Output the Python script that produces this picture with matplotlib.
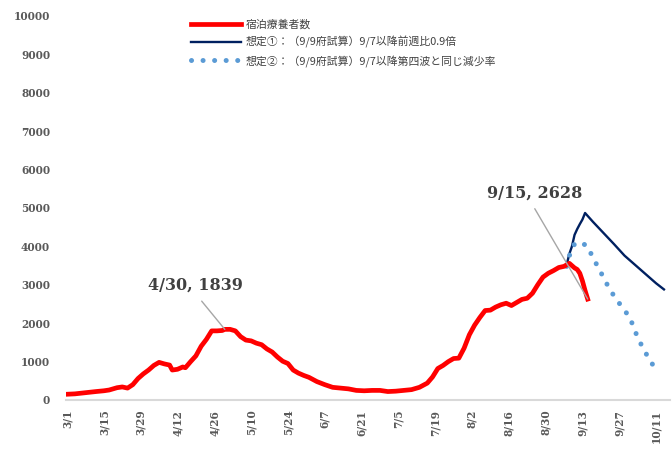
import numpy as np
import pandas as pd
import matplotlib
matplotlib.use("Agg")
import matplotlib.pyplot as plt

# 宿泊療養者数 (actual)
actual_dates = ["3/1", "3/4", "3/8", "3/12", "3/15", "3/17", "3/20", "3/22", "3/24", "3/26",
                "3/28", "3/30", "4/1", "4/3", "4/5", "4/7", "4/9", "4/10", "4/12", "4/14",
                "4/15", "4/17", "4/19", "4/21", "4/23", "4/25", "4/27", "4/29", "4/30", "5/2",
                "5/4", "5/6", "5/8", "5/10", "5/12", "5/14", "5/16", "5/18", "5/20", "5/22",
                "5/24", "5/26", "5/28", "5/30", "6/1", "6/4", "6/7", "6/10", "6/13", "6/16",
                "6/19", "6/22", "6/25", "6/28", "7/1", "7/4", "7/7", "7/10", "7/13", "7/16",
                "7/18", "7/20", "7/22", "7/24", "7/26", "7/28", "7/30", "8/1", "8/3", "8/5",
                "8/7", "8/9", "8/11", "8/13", "8/15", "8/17", "8/19", "8/21", "8/23", "8/25",
                "8/27", "8/29", "8/31", "9/2", "9/4", "9/6", "9/8", "9/9", "9/10", "9/11",
                "9/12", "9/13", "9/14", "9/15"]
actual_vals = [150, 160, 190, 220, 240, 260, 320, 340, 310, 400,
               560, 680, 780, 900, 980, 940, 910, 780, 800, 860,
               840, 1000, 1150, 1400, 1580, 1800, 1800, 1810, 1839, 1840,
               1800, 1650, 1560, 1540, 1480, 1440, 1330, 1250, 1120, 1010,
               950, 780, 700, 640, 590, 480, 400, 330, 310, 290,
               250, 240, 250, 250, 220, 230, 250, 270, 330, 440,
               600, 820, 900, 1000, 1080, 1090, 1350, 1700, 1950, 2150,
               2330, 2340, 2420, 2480, 2520, 2460, 2540, 2620, 2650, 2780,
               3000, 3200, 3300, 3370, 3450, 3480, 3560, 3500, 3440, 3400,
               3300, 3100, 2850, 2628]

# 想定①
case1_dates = ["9/7", "9/8", "9/9", "9/10", "9/11", "9/12", "9/13", "9/14", "9/17", "9/21",
               "9/25", "9/29", "10/3", "10/7", "10/11", "10/14"]
case1_vals = [3520, 3800, 4000, 4300, 4450, 4580, 4700, 4870, 4640, 4350,
              4060, 3760, 3520, 3280, 3040, 2880]

# 想定②
case2_dates = ["9/7", "9/8", "9/9", "9/10", "9/11", "9/12", "9/13", "9/15", "9/17", "9/19",
               "9/21", "9/23", "9/25", "9/27", "9/29", "10/1", "10/3", "10/5", "10/7", "10/9",
               "10/10"]
case2_vals = [3480, 3750, 3950, 4060, 4100, 4110, 4080, 4000, 3700, 3455,
              3190, 2930, 2710, 2520, 2330, 2160, 1790, 1490, 1230, 1000,
              890]

tick_dates = ["3/1", "3/15", "3/29", "4/12", "4/26", "5/10", "5/24", "6/7", "6/21", "7/5",
              "7/19", "8/2", "8/16", "8/30", "9/13", "9/27", "10/11"]

start = pd.Timestamp("2021-03-01")


def to_days(labels):
    return np.array([(pd.Timestamp("2021/" + s) - start).days for s in labels])


plt.rcParams['font.family'] = ['Noto Sans CJK JP', 'DejaVu Sans']

fig = plt.figure(figsize=(6.72, 4.51), dpi=100)
ax = fig.add_axes([66 / 672, 51 / 451, 604 / 672, 384 / 451])

ax.plot(to_days(actual_dates), actual_vals, color="#FF0000", lw=3.4,
        solid_joinstyle="round", label="宿泊療養者数", zorder=3)
ax.plot(to_days(case1_dates), case1_vals, color="#002060", lw=1.7,
        label="想定①：（9/9府試算）9/7以降前週比0.9倍", zorder=2)
ax.plot(to_days(case2_dates), case2_vals, color="#5B9BD5", lw=3.6,
        linestyle=(0, (0.01, 2.3)), dash_capstyle="round",
        label="想定②：（9/9府試算）9/7以降第四波と同じ減少率", zorder=2)

ax.set_xlim(-0.4, 229.3)
ax.set_ylim(0, 10000)
ax.set_yticks(range(0, 10001, 1000))
ax.set_xticks(to_days(tick_dates))
ax.set_xticklabels(tick_dates, rotation=90)

for lab in ax.get_xticklabels() + ax.get_yticklabels():
    lab.set_family("DejaVu Serif")
    lab.set_fontweight("bold")
    lab.set_fontsize(7.6)
    lab.set_color("#595959")

ax.tick_params(length=0)
ax.tick_params(axis="x", pad=7)
ax.tick_params(axis="y", pad=11.5)
for side in ["left", "right", "top"]:
    ax.spines[side].set_visible(False)
ax.spines["bottom"].set_color("#D9D9D9")
ax.spines["bottom"].set_linewidth(1.5)

# annotations
d430 = to_days(["4/30"])[0]
ax.annotate("4/30, 1839", xy=(d430, 1839), xytext=(d430 - 11, 2980),
            ha="center", va="center", family="DejaVu Serif", fontweight="bold",
            fontsize=11.5, color="#404040",
            arrowprops=dict(arrowstyle="-", color="#A6A6A6", lw=1,
                            relpos=(0.5, 0), shrinkA=4, shrinkB=0))
d915 = to_days(["9/15"])[0]
ax.annotate("9/15, 2628", xy=(d915, 2628), xytext=(d915 - 20, 5400),
            ha="center", va="center", family="DejaVu Serif", fontweight="bold",
            fontsize=11.5, color="#404040",
            arrowprops=dict(arrowstyle="-", color="#A6A6A6", lw=1,
                            relpos=(0.45, 0), shrinkA=4, shrinkB=0))

leg = ax.legend(loc="upper left", bbox_to_anchor=(191 / 672, 432 / 451),
                bbox_transform=fig.transFigure, frameon=False, fontsize=7.8,
                handlelength=4.6, handletextpad=0.45, labelspacing=0.6,
                borderaxespad=0, borderpad=0)
for t in leg.get_texts():
    t.set_color("#404040")

fig.savefig("out.png", dpi=100)
